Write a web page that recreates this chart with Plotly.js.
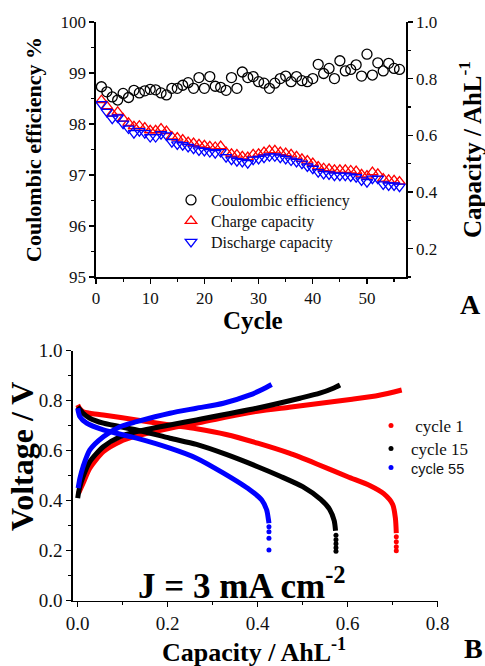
<!DOCTYPE html>
<html>
<head>
<meta charset="utf-8">
<script src="https://cdn.plot.ly/plotly-3.0.1.min.js"></script>
<style>html,body{margin:0;padding:0;background:#fff;}#chart{width:485px;height:666px;}</style>
</head>
<body>
<div id="chart"></div>
<script>
// ---------- Panel A data ----------
var cycles = [1,2,3,4,5,6,7,8,9,10,11,12,13,14,15,16,17,18,19,20,21,22,23,24,25,26,27,28,29,30,31,32,33,34,35,36,37,38,39,40,41,42,43,44,45,46,47,48,49,50,51,52,53,54,55,56];
var coulombicEff = [98.73,98.63,98.53,98.47,98.60,98.52,98.66,98.61,98.65,98.68,98.67,98.61,98.57,98.70,98.70,98.76,98.81,98.70,98.91,98.70,98.93,98.74,98.72,98.66,98.91,98.70,99.02,98.91,98.93,98.83,98.80,98.70,98.80,98.89,98.94,98.83,98.93,98.85,98.83,98.89,99.17,98.99,99.09,98.89,99.24,99.04,99.07,99.16,98.94,99.37,98.96,99.20,99.04,99.19,99.09,99.07];
var chargeCap = [0.724,0.703,0.677,0.683,0.659,0.644,0.632,0.634,0.627,0.618,0.618,0.624,0.615,0.596,0.592,0.585,0.576,0.573,0.568,0.565,0.561,0.559,0.562,0.541,0.535,0.532,0.526,0.523,0.533,0.535,0.541,0.547,0.547,0.541,0.537,0.533,0.526,0.517,0.511,0.502,0.490,0.484,0.482,0.478,0.478,0.478,0.476,0.474,0.462,0.458,0.470,0.464,0.447,0.443,0.441,0.437];
var dischargeCap = [0.710,0.683,0.659,0.663,0.641,0.624,0.608,0.615,0.608,0.594,0.594,0.604,0.600,0.576,0.568,0.565,0.559,0.553,0.547,0.545,0.541,0.537,0.541,0.523,0.514,0.509,0.506,0.502,0.514,0.517,0.521,0.526,0.526,0.521,0.517,0.511,0.506,0.500,0.490,0.482,0.470,0.464,0.462,0.458,0.458,0.458,0.455,0.452,0.441,0.435,0.447,0.447,0.427,0.423,0.423,0.419];

// ---------- Panel B data ----------
var c1ChargeX = [0.002,0.012,0.027,0.057,0.094,0.131,0.205,0.264,0.330,0.400,0.470,0.540,0.610,0.670,0.720];
var c1ChargeY = [0.430,0.470,0.530,0.596,0.636,0.659,0.690,0.710,0.735,0.758,0.774,0.790,0.806,0.822,0.843];
var c1DischX = [0.000,0.004,0.012,0.027,0.057,0.131,0.205,0.264,0.330,0.400,0.470,0.530,0.600,0.650,0.680,0.700,0.706,0.708];
var c1DischY = [0.783,0.770,0.756,0.750,0.743,0.723,0.703,0.688,0.665,0.630,0.590,0.548,0.496,0.460,0.428,0.385,0.330,0.270];
var c1TailX = [0.708,0.708,0.708,0.708];
var c1TailY = [0.256,0.236,0.216,0.200];

var c15ChargeX = [0.000,0.004,0.012,0.027,0.057,0.094,0.131,0.205,0.264,0.398,0.494,0.538,0.568,0.583];
var c15ChargeY = [0.410,0.450,0.496,0.556,0.616,0.656,0.676,0.703,0.723,0.770,0.810,0.830,0.850,0.863];
var c15DischX = [0.000,0.012,0.027,0.057,0.131,0.205,0.264,0.330,0.400,0.450,0.500,0.540,0.560,0.570,0.573];
var c15DischY = [0.776,0.750,0.730,0.710,0.683,0.650,0.625,0.585,0.536,0.498,0.456,0.405,0.365,0.320,0.280];
var c15TailX = [0.574,0.574,0.574,0.574,0.574];
var c15TailY = [0.262,0.244,0.228,0.212,0.198];

var c55ChargeX = [0.001,0.005,0.012,0.027,0.057,0.094,0.131,0.205,0.264,0.324,0.383,0.410,0.431];
var c55ChargeY = [0.450,0.490,0.536,0.603,0.656,0.696,0.716,0.750,0.770,0.790,0.823,0.845,0.865];
var c55DischX = [0.000,0.005,0.020,0.057,0.131,0.205,0.264,0.324,0.383,0.409,0.420,0.424,0.425];
var c55DischY = [0.770,0.736,0.710,0.683,0.650,0.610,0.570,0.510,0.443,0.403,0.363,0.323,0.310];
var c55TailX = [0.425,0.425,0.425,0.425];
var c55TailY = [0.296,0.276,0.250,0.203];

var serif = 'Liberation Serif';
var RED = '#ff0000', BLACK = '#000000', BLUE = '#0000ff';

function curve(x, y, color) {
  return {x: x, y: y, xaxis: 'x2', yaxis: 'y2', mode: 'lines', type: 'scatter',
    line: {color: color, width: 5, shape: 'spline', smoothing: 0.7},
    showlegend: false, hoverinfo: 'skip'};
}
function tail(x, y, color, name, legendId) {
  return {x: x, y: y, xaxis: 'x2', yaxis: 'y2', mode: 'markers', type: 'scatter',
    marker: {color: color, size: 5, symbol: 'circle'}, name: name, legend: legendId};
}

var data = [
  {x: cycles, y: coulombicEff, xaxis: 'x', yaxis: 'y', mode: 'markers', type: 'scatter',
   name: 'Coulombic efficiency', legend: 'legend',
   marker: {symbol: 'circle-open', size: 10, color: BLACK, line: {width: 1.3, color: BLACK}}},
  {x: cycles, y: chargeCap, xaxis: 'x', yaxis: 'y3', mode: 'markers', type: 'scatter',
   name: 'Charge capacity', legend: 'legend3',
   marker: {symbol: 'triangle-up-open', size: 10, color: RED, line: {width: 1.3, color: RED}}},
  {x: cycles, y: dischargeCap, xaxis: 'x', yaxis: 'y3', mode: 'markers', type: 'scatter',
   name: 'Discharge capacity', legend: 'legend4',
   marker: {symbol: 'triangle-down-open', size: 10, color: BLUE, line: {width: 1.3, color: BLUE}}},

  curve(c1ChargeX, c1ChargeY, RED),
  curve(c1DischX, c1DischY, RED),
  curve(c15ChargeX, c15ChargeY, BLACK),
  curve(c15DischX, c15DischY, BLACK),
  curve(c55ChargeX, c55ChargeY, BLUE),
  curve(c55DischX, c55DischY, BLUE),
  tail(c1TailX, c1TailY, RED, ' cycle 1', 'legend2'),
  tail(c15TailX, c15TailY, BLACK, 'cycle 15', 'legend5'),
  tail(c55TailX, c55TailY, BLUE, '<span style="font-family:Liberation Sans;font-size:14.5px">cycle 55</span>', 'legend6')
];

var W = 485, H = 666;
function dx(a, b) { return [a / W, b / W]; }
function dy(top, bottom) { return [(H - bottom) / H, (H - top) / H]; }
function px(x) { return x / W; }
function py(y) { return (H - y) / H; }
function minorTicks(d) { return {dtick: d, ticks: 'outside', ticklen: 3, tickwidth: 1.2, tickcolor: '#000'}; }

function ax(extra, tickSize) {
  var base = {
    showline: true, linecolor: '#000', linewidth: 1.6, mirror: false,
    ticks: 'outside', ticklen: 5, tickwidth: 1.4, tickcolor: '#000',
    showgrid: false, zeroline: false,
    tickfont: {family: serif, size: tickSize, color: '#111'}
  };
  return Object.assign(base, extra);
}
function leg(xpx, ypx, size) {
  return {x: px(xpx), y: py(ypx), xanchor: 'left', yanchor: 'middle',
    bgcolor: 'rgba(0,0,0,0)', borderwidth: 0,
    font: {family: serif, size: size, color: '#111'}};
}
function label(text, xpx, ypx, size, angle, xanchor, yanchor) {
  return {xref: 'paper', yref: 'paper', x: px(xpx), y: py(ypx),
    xanchor: xanchor || 'center', yanchor: yanchor || 'middle', textangle: angle || 0,
    text: text, showarrow: false, font: {family: serif, size: size, color: '#000'}};
}

var layout = {
  width: W, height: H,
  margin: {l: 0, r: 0, t: 0, b: 0},
  paper_bgcolor: '#fff', plot_bgcolor: 'rgba(0,0,0,0)',
  font: {family: serif, color: '#000'},
  xaxis: ax({domain: dx(96, 406), anchor: 'y', range: [0, 57.2], dtick: 10, tick0: 0,
    minor: minorTicks(5)}, 17),
  yaxis: ax({domain: dy(22, 277), anchor: 'x', range: [95, 100], dtick: 1, tick0: 95,
    minor: minorTicks(0.5),
    title: {text: '<b>Coulombic efficiency %</b>', font: {family: serif, size: 22}}}, 17),
  yaxis3: ax({overlaying: 'y', side: 'right', anchor: 'x', range: [0.1, 1.0], dtick: 0.2, tick0: 0,
    tickformat: '.1f', minor: minorTicks(0.1)}, 17),
  xaxis2: ax({domain: dx(73, 437.7), anchor: 'y2', range: [-0.0104, 0.8], dtick: 0.2, tick0: 0,
    tickformat: '.1f', minor: minorTicks(0.1)}, 19),
  yaxis2: ax({domain: dy(350.7, 600.7), anchor: 'x2', range: [0, 1.0], dtick: 0.2, tick0: 0,
    tickformat: '.1f', minor: minorTicks(0.1)}, 19),
  legend: leg(171, 200, 16),
  legend3: leg(171, 221, 16),
  legend4: leg(171, 242, 16),
  legend2: leg(371, 426, 17),
  legend5: leg(371, 449, 17),
  legend6: leg(371, 468, 17),
  annotations: [
    // axis titles
    label('<b>Cycle</b>', 253, 320, 25),
    label('<b>Capacity / AhL<sup>-1</sup></b>', 470, 150, 25, -90),
    label('<b>Voltage / V</b>', 22, 457, 32, -90),
    label('<b>Capacity / AhL<sup>-1</sup></b>', 254, 650.5, 26),
    // panel annotations
    label('<b>J = 3 mA cm<sup>-2</sup></b>', 242, 583, 35),
    label('<b>A</b>', 470, 304, 28),
    label('<b>B</b>', 473, 666, 28, 0, 'center', 'bottom')
  ],
  showlegend: true
};

Plotly.newPlot('chart', data, layout, {staticPlot: true, displayModeBar: false});
</script>
</body>
</html>
